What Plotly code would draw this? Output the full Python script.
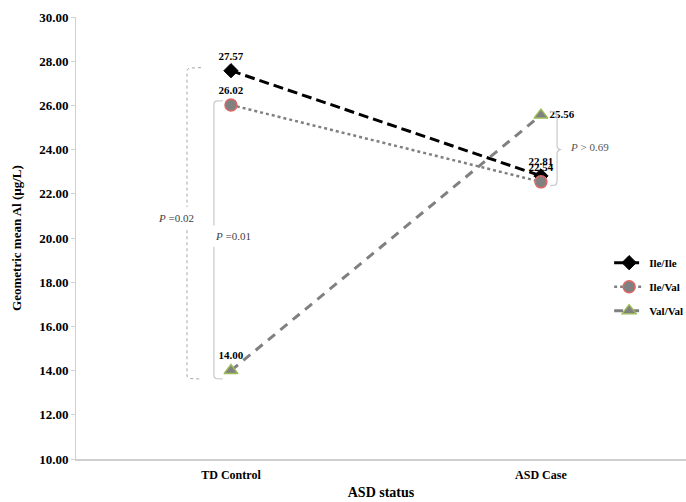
import plotly.graph_objects as go

# Geometric mean Al (µg/L) by genotype and ASD status
categories = ["TD Control", "ASD Case"]
genotypes = ["Ile/Ile", "Ile/Val", "Val/Val"]
ile_ile = [27.57, 22.81]
ile_val = [26.02, 22.54]
val_val = [14.00, 25.56]
y_ticks = [10, 12, 14, 16, 18, 20, 22, 24, 26, 28, 30]

serif = "Liberation Serif"

series = [
    dict(name=genotypes[0], y=ile_ile,
         line=dict(color="#000000", width=3, dash="10px,5px"),
         marker=dict(symbol="diamond", size=11, color="#000000",
                     line=dict(color="#000000", width=1)),
         textpos=["top center", "top center"]),
    dict(name=genotypes[1], y=ile_val,
         line=dict(color="#808080", width=2.5, dash="dot"),
         marker=dict(symbol="circle", size=12, color="#808080",
                     line=dict(color="#e06666", width=1.5)),
         textpos=["top center", "top center"]),
    dict(name=genotypes[2], y=val_val,
         line=dict(color="#808080", width=3, dash="9px,7px"),
         marker=dict(symbol="triangle-up", size=12, color="#808080",
                     line=dict(color="#9bbb59", width=1.5)),
         textpos=["top center", "middle right"]),
]

fig = go.Figure()
for i, s in enumerate(series):
    fig.add_trace(go.Scatter(
        x=categories, y=s["y"], name=s["name"],
        mode="lines+markers+text",
        line=s["line"], marker=s["marker"],
        texttemplate="%{y:.2f}", textposition=s["textpos"],
        textfont=dict(family=serif, size=11, color="#000000", weight="bold"),
        legendgroup=f"g{i}",
    ))

# significance brackets
grey = "#a6a6a6"
light = "#c8c8c8"
y_top_a, y_top_b, y_low = ile_ile[0], ile_val[0], val_val[0]
xa, xb, xc = -0.142, -0.055, 1.052
shapes = [
    # P = 0.02 bracket (TD Control, Ile/Ile vs Val/Val)
    dict(type="path", xref="x", yref="y",
         path=f"M -0.097 {y_top_a + 0.14} L {xa + 0.01} {y_top_a + 0.12} Q {xa} {y_top_a + 0.1} {xa} {y_top_a - 0.05} "
              f"L {xa} 21.4",
         line=dict(color=grey, width=1, dash="dot")),
    dict(type="path", xref="x", yref="y",
         path=f"M {xa} 20.35 L {xa} {y_low - 0.2} Q {xa} {y_low - 0.33} {xa + 0.01} {y_low - 0.36} L -0.097 {y_low - 0.38}",
         line=dict(color=grey, width=1, dash="dot")),
    # P = 0.01 bracket (TD Control, Ile/Val vs Val/Val)
    dict(type="path", xref="x", yref="y",
         path=f"M -0.026 {y_top_b + 0.19} L {xb + 0.006} {y_top_b + 0.17} Q {xb} {y_top_b + 0.15} {xb} {y_top_b} "
              f"L {xb} 20.57",
         line=dict(color=light, width=1.2)),
    dict(type="path", xref="x", yref="y",
         path=f"M {xb} 19.6 L {xb} {y_low - 0.2} Q {xb} {y_low - 0.33} {xb + 0.007} {y_low - 0.36} L -0.026 {y_low - 0.38}",
         line=dict(color=light, width=1.2)),
    # P > 0.69 bracket (ASD Case)
    dict(type="path", xref="x", yref="y",
         path=f"M 1.03 {val_val[1] + 0.17} L {xc - 0.007} {val_val[1] + 0.15} Q {xc} {val_val[1] + 0.12} {xc} {val_val[1] - 0.05} "
              f"L {xc} 24.15 Q {xc} 24.05 {xc + 0.01} 24.0 Q {xc} 23.95 {xc} 23.85 "
              f"L {xc} {ile_val[1] + 0.05} Q {xc} {ile_val[1] - 0.12} {xc - 0.007} {ile_val[1] - 0.15} L 1.03 {ile_val[1] - 0.17}",
         line=dict(color=light, width=1.2)),
]

annotations = [
    dict(x=-0.178, y=20.9, xref="x", yref="y", text="<i>P</i> =0.02", showarrow=False,
         xanchor="center", yanchor="middle",
         font=dict(family=serif, size=11, color="#404040")),
    dict(x=-0.058, y=20.07, xref="x", yref="y", text="<i>P</i> =0.01", showarrow=False,
         xanchor="left", yanchor="middle",
         font=dict(family=serif, size=11, color="#404040")),
    dict(x=1.087, y=24.1, xref="x", yref="y", text="<i>P</i> > 0.69", showarrow=False,
         xanchor="left", yanchor="middle",
         font=dict(family=serif, size=11, color="#555555")),
]

fig.update_layout(
    width=686, height=502,
    margin=dict(l=76, r=0, t=17, b=43, autoexpand=False),
    paper_bgcolor="#ffffff", plot_bgcolor="#ffffff",
    font=dict(family=serif, color="#000000"),
    shapes=shapes, annotations=annotations,
    showlegend=True,
    legend=dict(x=0.874, y=0.477, xanchor="left", yanchor="top",
                bgcolor="rgba(0,0,0,0)", traceorder="grouped", tracegroupgap=5,
                itemwidth=30,
                font=dict(family=serif, size=11, color="#000000", weight="bold")),
    xaxis=dict(
        type="category", range=[-0.5, 1.468],
        showline=True, linecolor="#d0d0d0", linewidth=1.5,
        showgrid=False, ticks="", zeroline=False,
        ticklabelstandoff=4,
        tickfont=dict(family=serif, size=12, color="#000000", weight="bold"),
        title=dict(text="ASD status", standoff=6,
                   font=dict(family=serif, size=14, color="#000000", weight="bold")),
    ),
    yaxis=dict(
        range=[10, 30], tickvals=y_ticks, tickformat=".2f",
        showline=True, linecolor="#d0d0d0", linewidth=1,
        showgrid=False, zeroline=False,
        ticks="outside", ticklen=4, tickcolor="#d0d0d0",
        tickfont=dict(family=serif, size=13, color="#000000", weight="bold"),
        title=dict(text="Geometric mean Al (µg/L)", standoff=14,
                   font=dict(family=serif, size=13, color="#000000", weight="bold")),
    ),
)

fig.write_html("out.html")
